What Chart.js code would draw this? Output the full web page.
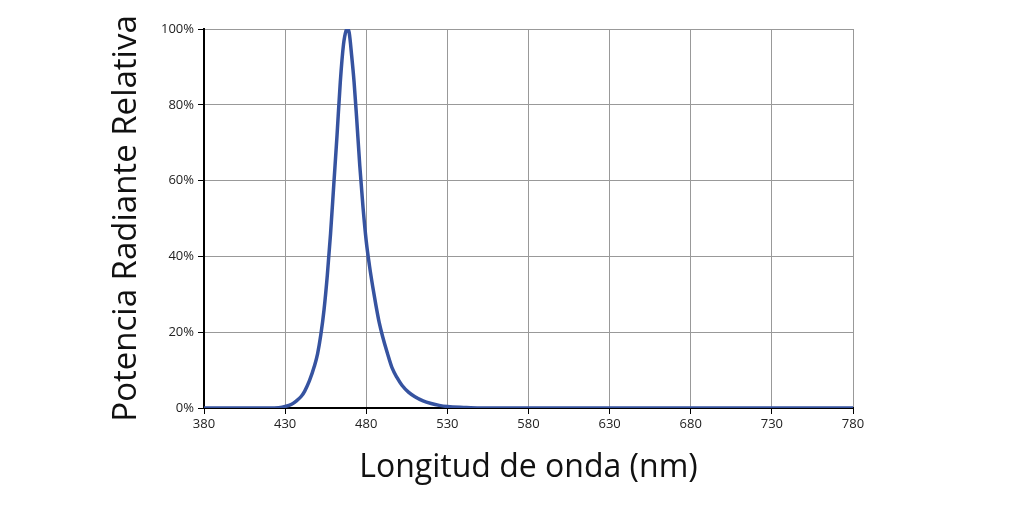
<!DOCTYPE html>
<html>
<head>
<meta charset="utf-8">
<script src="https://cdn.jsdelivr.net/npm/chart.js@4"></script>
<style>
  html, body { margin: 0; padding: 0; background: #fff; }
  canvas { display: block; }
</style>
</head>
<body>
<canvas id="chart" width="1024" height="516"></canvas>
<script>
// wavelength (nm) and relative radiant power (%)
const wavelengths = [380, 400, 420, 426, 430, 434, 437, 440, 442, 445, 448, 450, 452, 454, 456, 458, 460, 462, 464, 466, 467.5, 468.5, 469.5, 471, 472.5, 474, 476, 478, 480, 482, 484, 486, 488, 490, 493, 496, 499, 502, 506, 510, 515, 520, 525, 530, 540, 550, 600, 650, 700, 750, 780];
const power = [0, 0, 0, 0.1, 0.4, 1, 1.9, 3.1, 4.4, 7.2, 11, 14.3, 19.3, 26, 35, 46, 59, 72, 86, 96, 99.5, 100, 99, 93, 86, 77, 64, 53, 44, 37.5, 32, 27, 22.5, 19, 14.5, 10.5, 8, 6, 4.2, 3, 1.9, 1.2, 0.7, 0.4, 0.15, 0, 0, 0, 0, 0, 0];

const xTicks = [380, 430, 480, 530, 580, 630, 680, 730, 780];
const yTicks = [0, 20, 40, 60, 80, 100];

const points = wavelengths.map((w, i) => ({ x: w, y: power[i] }));

const ctx = document.getElementById("chart").getContext("2d");

chart = new Chart(ctx, {
    type: "line",
    data: {
        datasets: [{
            label: "Potencia",
            data: points,
            borderColor: "#3653a0",
            borderWidth: 3.5,
            pointRadius: 0,
            cubicInterpolationMode: "monotone",
            fill: false
        }]
    },
    options: {
        responsive: false,
        animation: false,
        layout: { padding: { top: 29, right: 171, left: 0, bottom: 0 } },
        plugins: {
            legend: { display: false },
            tooltip: { enabled: false }
        },
        scales: {
            x: {
                type: "linear",
                min: 380,
                max: 780,
                afterBuildTicks: scale => {
                    scale.ticks = xTicks.map(v => ({ value: v }));
                },
                afterFit: scale => { scale.height = 108; },
                grid: { color: "#999", lineWidth: 1, tickColor: "#000", tickLength: 6 },
                border: { color: "#000", width: 2 },
                ticks: {
                    color: "#222",
                    font: { family: "Open Sans", size: 13 },
                    padding: 2,
                    maxRotation: 0
                },
                title: {
                    display: true,
                    text: "Longitud de onda (nm)",
                    color: "#111",
                    font: { family: "Open Sans", size: 32 },
                    padding: { top: 0, bottom: 29 }
                }
            },
            y: {
                min: 0,
                max: 100,
                afterBuildTicks: scale => {
                    scale.ticks = yTicks.map(v => ({ value: v }));
                },
                afterFit: scale => { scale.width = 204; },
                grid: { color: "#999", lineWidth: 1, tickColor: "#000", tickLength: 6 },
                border: { color: "#000", width: 2 },
                ticks: {
                    color: "#222",
                    font: { family: "Open Sans", size: 13 },
                    padding: 4,
                    callback: v => v + "%"
                },
                title: {
                    display: true,
                    text: "Potencia Radiante Relativa",
                    color: "#111",
                    font: { family: "Open Sans", size: 33 },
                    padding: { top: 107, bottom: 0 }
                }
            }
        }
    }
});
</script>
</body>
</html>
